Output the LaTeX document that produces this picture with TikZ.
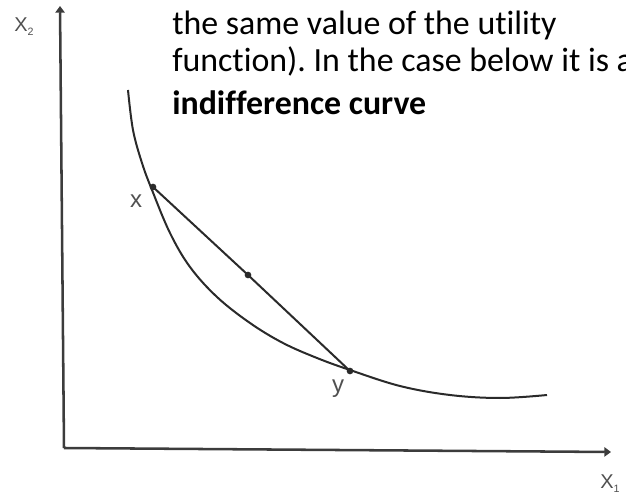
\documentclass[tikz,border=0pt]{standalone}
\usepackage{fontspec}
\setmainfont{Carlito}[Ligatures={NoCommon}]
\newfontfamily\lblfont{Liberation Sans}
\usetikzlibrary{arrows.meta}
\definecolor{axisgray}{HTML}{3C3C3C}
\definecolor{curvegray}{HTML}{2A2A2A}
\definecolor{lblgray}{HTML}{505050}
\tikzset{
  axisline/.style={draw=axisgray, line width=1.9pt, -{Triangle[width=7pt,length=5pt]}},
  curveline/.style={draw=curvegray, line width=1.5pt},
  ptdot/.style={circle, fill=curvegray, inner sep=0pt, minimum size=5pt},
  axislbl/.style={text=lblgray, font=\lblfont\fontsize{15}{17}\selectfont, inner sep=0pt},
  ptlbl/.style={text=lblgray, font=\lblfont\fontsize{18}{20}\selectfont, inner sep=0pt},
  bodytext/.style={anchor=base west, inner sep=0pt, font=\fontsize{25.4}{30}\selectfont}
}
\frenchspacing
\begin{document}
\begin{tikzpicture}[x=0.75pt,y=-0.75pt]
\useasboundingbox (0,0) rectangle (626,492);
\clip (0,0) rectangle (626,492);
% axes
\coordinate (O) at (64,448);
\coordinate (Ytip) at (60,6);
\coordinate (Xtip) at (611,452);
\draw[axisline] (O) -- (Ytip);
\draw[axisline] (O) -- (Xtip);
\node[axislbl] (lx2) at (24,27) {X\raisebox{-0.4ex}{\fontsize{8}{9}\selectfont 2}};
\node[axislbl] (lx1) at (610,484) {X\raisebox{-0.4ex}{\fontsize{8}{9}\selectfont 1}};
% indifference curve
\draw[curveline] plot[smooth, tension=0.6] coordinates {
 (128,90) (133,130) (142,163) (152,190) (170,233) (190,267) (217,297)
 (250,323) (283,343) (317,358) (350,370) (400,386) (450,395) (500,398) (547,395)};
% points and chord
\node[ptdot] (px) at (153,187) {};
\node[ptdot] (py) at (350,371) {};
\node[ptdot] (pm) at (248,275) {};
\draw[curveline] (px.center) -- (pm.center) -- (py.center);
\node[ptlbl] (lblx) at (136,201) {x};
\node[ptlbl] (lbly) at (338,389) {y};
% text
\node[bodytext] (t1) at (172,35) {the same value of the utility};
\node[bodytext] (t2) at (172,72) {function). In the case below it is a};
\node[bodytext] (t3) at (172,115) {\bfseries indifference curve};
\end{tikzpicture}
\end{document}
